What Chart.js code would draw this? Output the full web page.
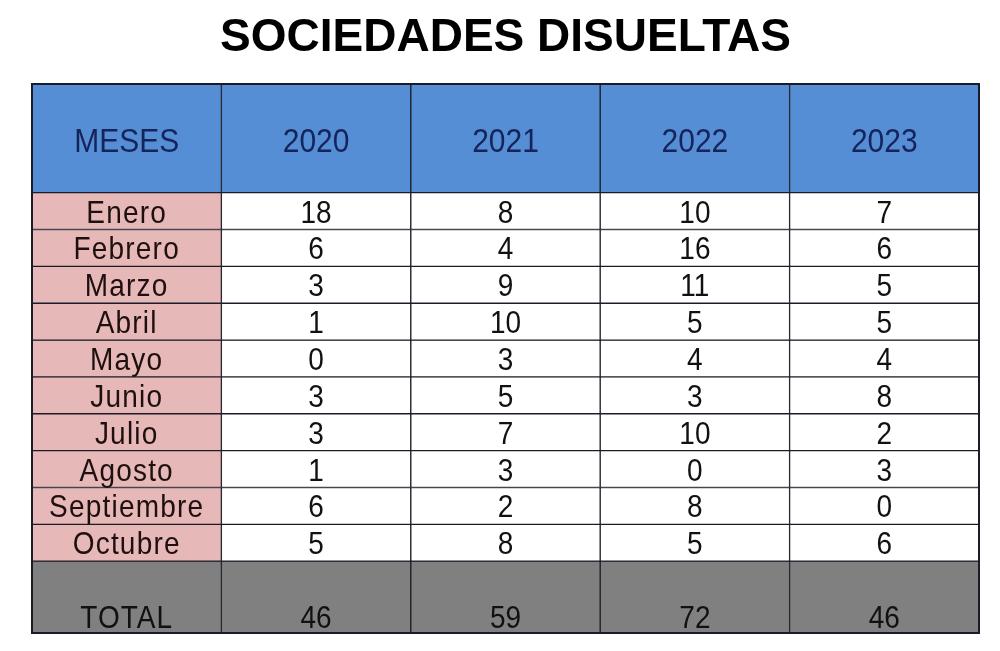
<!DOCTYPE html>
<html>
<head>
<meta charset="utf-8">
<title>Sociedades disueltas</title>
<script src="https://cdn.jsdelivr.net/npm/chart.js@4.4.1/dist/chart.umd.min.js"></script>
<style>
  body { margin: 0; background: #fff; }
  #wrap { width: 1000px; height: 651px; }
</style>
</head>
<body>
<div id="wrap"><canvas id="tabla" width="1000" height="651"></canvas></div>
<script>
// Datos de la tabla
const columns = ["MESES", "2020", "2021", "2022", "2023"];
const months = ["Enero", "Febrero", "Marzo", "Abril", "Mayo", "Junio", "Julio", "Agosto", "Septiembre", "Octubre"];
const v2020 = [18, 6, 3, 1, 0, 3, 3, 1, 6, 5];
const v2021 = [8, 4, 9, 10, 3, 5, 7, 3, 2, 8];
const v2022 = [10, 16, 11, 5, 4, 3, 10, 0, 8, 5];
const v2023 = [7, 6, 5, 5, 4, 8, 2, 3, 0, 6];
const totals = [46, 59, 72, 46];

// alturas de fila (unidades del eje y)
const HEADER_H = 2.95;
const ROW_H = 1;
const TOTAL_H = 1.95;

const BLUE = "#558ed5";
const PINK = "#e6b8b7";
const GREY = "#808080";
const LINE = "#1c1c28";

// filas de la tabla: texto por columna, color por columna, alto
const rows = [];
rows.push({ kind: "header", texts: columns, colors: columns.map(() => BLUE), h: HEADER_H });
months.forEach((m, i) => {
    rows.push({
        kind: "data",
        texts: [m, v2020[i], v2021[i], v2022[i], v2023[i]].map(String),
        colors: [PINK, "#ffffff", "#ffffff", "#ffffff", "#ffffff"],
        h: ROW_H
    });
});
rows.push({ kind: "total", texts: ["TOTAL"].concat(totals.map(String)), colors: columns.map(() => GREY), h: TOTAL_H });

let acc = 0;
const datasets = rows.map(r => {
    const top = acc;
    acc += r.h;
    return {
        label: r.texts[0],
        data: columns.map(() => [top, acc]),
        backgroundColor: r.colors,
        borderColor: LINE,
        borderWidth: 1,
        borderSkipped: false,
        barPercentage: 1,
        categoryPercentage: 1,
        grouped: false
    };
});
const totalUnits = acc;

// texto de cada celda
const cellText = {
    id: "cellText",
    afterDatasetsDraw(chart) {
        const ctx = chart.ctx;
        ctx.save();
        rows.forEach((r, ri) => {
            const meta = chart.getDatasetMeta(ri);
            meta.data.forEach((bar, ci) => {
                const p = bar.getProps(["x", "y", "base"], true);
                const top = Math.min(p.y, p.base);
                const bottom = Math.max(p.y, p.base);
                let size, stretch, color, ty, spacing = "0px";
                if (r.kind === "header") {
                    size = 30; stretch = 1.12; color = "#15245a";
                    ty = (top + bottom) / 2 + 14;
                } else if (r.kind === "data") {
                    size = 28; stretch = 1.1; color = "#111111";
                    ty = (top + bottom) / 2 + 11.5;
                    if (ci === 0) { color = "#1e1010"; spacing = "1.2px"; }
                } else {
                    size = 28; stretch = 1.15; color = "#111111";
                    ty = bottom - 5;
                    if (ci === 0) spacing = "1px";
                }
                ctx.save();
                ctx.translate(p.x, ty);
                ctx.scale(1, stretch);
                ctx.font = size + "px 'Liberation Sans', Arial, sans-serif";
                ctx.letterSpacing = spacing;
                ctx.fillStyle = color;
                ctx.textAlign = "center";
                ctx.textBaseline = "alphabetic";
                ctx.fillText(r.texts[ci], 0, 0);
                ctx.restore();
            });
        });
        // marco exterior
        const a = chart.chartArea;
        ctx.strokeStyle = LINE;
        ctx.lineWidth = 2;
        ctx.strokeRect(a.left, a.top, a.right - a.left, a.bottom - a.top);
        ctx.restore();
    }
};

new Chart(document.getElementById("tabla"), {
    type: "bar",
    data: { labels: columns, datasets: datasets },
    options: {
        responsive: false,
        animation: false,
        layout: { padding: { left: 32, right: 21, top: 0, bottom: 18 } },
        scales: {
            x: { display: false, offset: true },
            y: { display: false, reverse: true, min: 0, max: totalUnits }
        },
        plugins: {
            legend: { display: false },
            tooltip: { enabled: false },
            title: {
                display: true,
                text: "SOCIEDADES DISUELTAS",
                color: "#000000",
                font: { family: "'Liberation Sans', Arial, sans-serif", size: 46, weight: "bold", lineHeight: 1.2 },
                padding: { top: 10.4, bottom: 18.4 }
            }
        }
    },
    plugins: [cellText]
});
</script>
</body>
</html>
